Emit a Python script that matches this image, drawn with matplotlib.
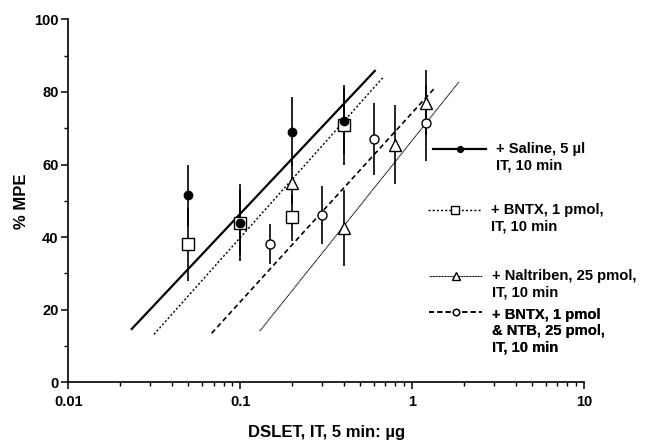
import numpy as np
import matplotlib.pyplot as plt
from matplotlib.ticker import FixedLocator, NullFormatter, LogLocator

plt.rcParams['font.family'] = ['Liberation Sans', 'DejaVu Sans']
plt.rcParams['font.weight'] = 'bold'

# data
saline_x = [0.05, 0.1, 0.2, 0.4]
saline_y = [51.5, 44, 69, 72]
saline_err = [8.5, 9, 9.5, 9]
saline_fit_x = [0.0234, 0.607]
saline_fit_y = [14.7, 85.8]

bntx_x = [0.05, 0.1, 0.2, 0.4]
bntx_y = [38, 44, 45.5, 71]
bntx_err = [10, 10.5, 6.5, 11]
bntx_fit_x = [0.0315, 0.678]
bntx_fit_y = [13.2, 84.0]

nal_x = [0.2, 0.4, 0.8, 1.2]
nal_y = [55, 42.5, 65.5, 77]
nal_err = [6, 10.5, 11, 9]
nal_fit_x = [0.130, 1.876]
nal_fit_y = [14.1, 82.8]

ntb_x = [0.15, 0.3, 0.6, 1.2]
ntb_y = [38, 46, 67, 71.5]
ntb_err = [5.5, 8, 10, 10.5]
ntb_fit_x = [0.0682, 1.337]
ntb_fit_y = [13.5, 80.8]

labels = ["+ Saline, 5 \u00b5l\nIT, 10 min",
          "+ BNTX, 1 pmol,\nIT, 10 min",
          "+ Naltriben, 25 pmol,\nIT, 10 min",
          "+ BNTX, 1 pmol\n& NTB, 25 pmol,\nIT, 10 min"]

fig = plt.figure(figsize=(6.49, 4.42), dpi=100)
ax = fig.add_axes([68.3/649, 1 - 382.3/442, (584 - 68.3)/649, (382.3 - 19.3)/442])

series = [
    (saline_x, saline_y, saline_err, saline_fit_x, saline_fit_y,
     dict(marker='o', ms=6, mfc='black', mec='black'), dict(ls='-', lw=1.6), 5),
    (bntx_x, bntx_y, bntx_err, bntx_fit_x, bntx_fit_y,
     dict(marker='s', ms=8.5, mfc='white', mec='black', mew=1.0), dict(ls=(0, (1.5, 1.5)), lw=1.0), 3),
    (nal_x, nal_y, nal_err, nal_fit_x, nal_fit_y,
     dict(marker='^', ms=8.5, mfc='white', mec='black', mew=1.0), dict(ls=(0, (1, 0.4)), lw=0.8), 3),
    (ntb_x, ntb_y, ntb_err, ntb_fit_x, ntb_fit_y,
     dict(marker='o', ms=6.5, mfc='white', mec='black', mew=1.0), dict(ls=(0, (3, 2)), lw=1.2), 3),
]

handles = []
for x, y, e, fx, fy, mk, ln, z in series:
    ax.errorbar(x, y, yerr=e, fmt='none', ecolor='black', elinewidth=1.2, capsize=0, zorder=2)
    ax.plot(fx, fy, color='black', zorder=1, **ln)
    ax.plot(x, y, ls='none', zorder=z, **mk)
    h, = ax.plot([], [], color='black', **ln, **mk)
    handles.append(h)

ax.set_xscale('log')
ax.set_xlim(0.01, 10)
ax.set_ylim(0, 100)
ax.xaxis.set_major_locator(FixedLocator([0.01, 0.1, 1, 10]))
ax.set_xticklabels(['0.01', '0.1', '1', '10'])
ax.xaxis.set_minor_locator(LogLocator(base=10, subs=np.arange(2, 10)))
ax.xaxis.set_minor_formatter(NullFormatter())
ax.set_yticks([0, 20, 40, 60, 80, 100])
ax.set_yticks([10, 30, 50, 70, 90], minor=True)

for s in ['top', 'right']:
    ax.spines[s].set_visible(False)
for s in ['left', 'bottom']:
    ax.spines[s].set_linewidth(1.2)
ax.tick_params(which='major', direction='out', length=5, width=1.1, labelsize=10.5, pad=2)
ax.tick_params(axis='x', which='major', pad=4)
ax.tick_params(which='minor', direction='out', length=3, width=1.0)

ax.set_xlabel("DSLET, IT, 5 min: \u00b5g", fontsize=12, fontweight='bold', labelpad=12)
ax.set_ylabel("% MPE", fontsize=12, fontweight='bold', labelpad=4)

# legend entries, handle lined up with the first text line
leg_pos = [(426, 128), (421, 189), (422, 255), (422, 280)]
leg_hh = [4.6, 4.6, 4.6, 9.5]
for h, lab, (px, py), hh in zip(handles, labels, leg_pos, leg_hh):
    lg = ax.legend([h], [lab], loc='upper left', bbox_to_anchor=(px/649, 1 - py/442),
                   bbox_transform=fig.transFigure, frameon=False, borderpad=0,
                   handlelength=3.6, handletextpad=0.65, handleheight=hh,
                   markerscale=0.7, prop={'size': 10.6, 'weight': 'bold'})
    ax.add_artist(lg)

fig.savefig('out.png', dpi=100)
